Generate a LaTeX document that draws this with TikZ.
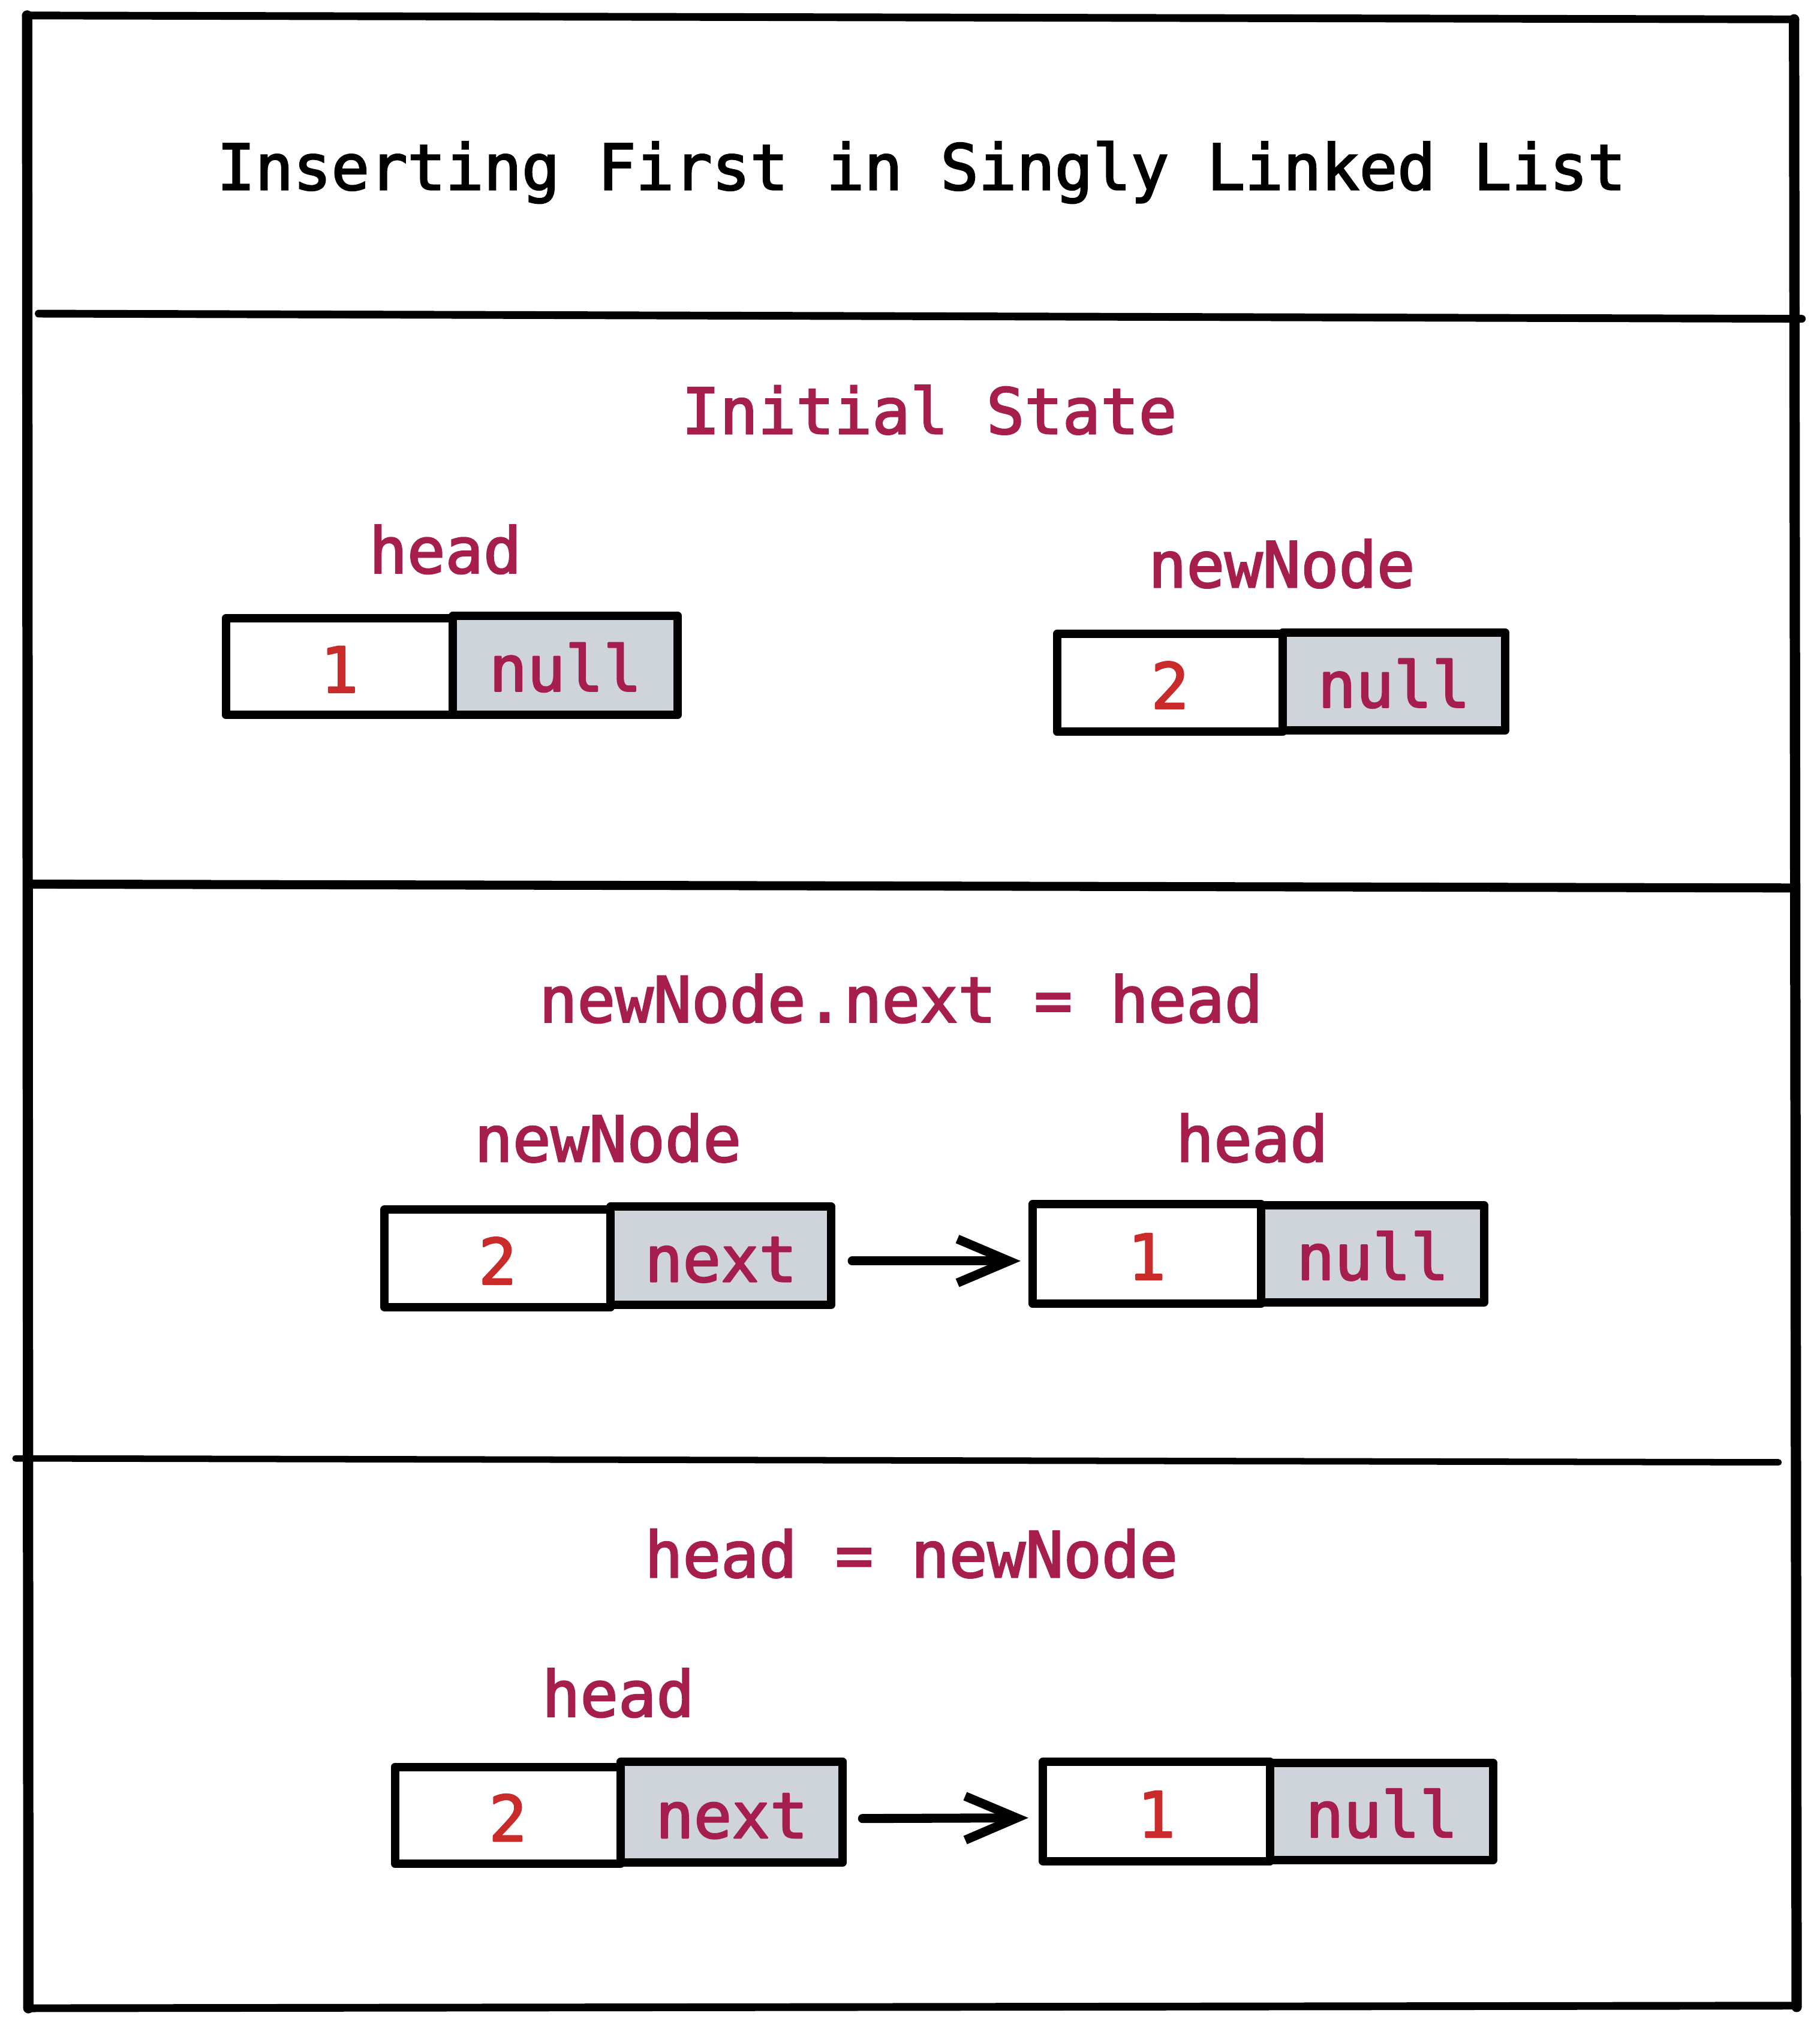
\documentclass[tikz,border=0pt]{standalone}
\usepackage{fontspec}
\newfontfamily\dvm[FakeBold=2.5]{DejaVu Sans Mono}
\usetikzlibrary{arrows.meta}
\definecolor{lbl}{HTML}{A61E4D}
\definecolor{num}{HTML}{C92A2A}
\definecolor{cellgray}{HTML}{CED4DA}
\tikzset{
  txt/.style={anchor=base, inner sep=0pt, font=\dvm\fontsize{49pt}{58pt}\selectfont},
  ttl/.style={txt, text=black},
  lab/.style={txt, text=lbl},
  cell/.style={draw=black, line width=6.5pt, line join=round, rectangle, inner sep=0pt,
    text height=40pt, text depth=0pt, font=\dvm\fontsize{49pt}{58pt}\selectfont},
  valcell/.style={cell, fill=white, text=num},
  ptrcell/.style={cell, fill=cellgray, text=lbl},
  frameline/.style={line width=6pt, line cap=round},
  arr/.style={line width=7pt, line cap=round, -{Straight Barb[length=40pt, width=34pt, line width=7pt]}}
}
\begin{document}
\begin{tikzpicture}[x=1pt, y=-1pt]
\useasboundingbox (0,0) rectangle (1410,1569);
% frame
\draw[frameline] (20,12) -- (1391,15);
\draw[frameline, line width=8pt] (21,12) -- (22,1556);
\draw[frameline, line width=8pt] (1390,15) -- (1392,1555);
\draw[frameline] (21,1556) -- (1392,1554);
% dividers
\draw[frameline] (30,243) -- (1396,247);
\draw[frameline, line width=7pt] (22,685) -- (1388,688);
\draw[frameline, line width=5pt] (12,1130) -- (1378,1133);
% title
\node[ttl] (title) at (714,147) {Inserting First in Singly Linked List};
% section 1
\node[lab] (h1) at (720,336) {Initial State};
\node[lab] (l1a) at (345,444) {head};
\node[lab] (l1b) at (993,455) {newNode};
\node[valcell, minimum width=176pt, minimum height=75pt] (a1) at (263,516.5) {1};
\node[ptrcell, minimum width=174pt, minimum height=77pt] (a2) at (438,515.5) {null};
\node[valcell, minimum width=175pt, minimum height=76pt] (b1) at (906.5,529) {2};
\node[ptrcell, minimum width=172pt, minimum height=76pt] (b2) at (1080,528) {null};
% section 2
\node[lab] (h2) at (698,792) {newNode.next = head};
\node[lab] (l2a) at (471,900) {newNode};
\node[lab] (l2b) at (970,900) {head};
\node[valcell, minimum width=175pt, minimum height=76pt] (c1) at (385.5,975) {2};
\node[ptrcell, minimum width=171pt, minimum height=76pt] (c2) at (558.5,973) {next};
\node[valcell, minimum width=177pt, minimum height=77pt] (d1) at (888.5,971.5) {1};
\node[ptrcell, minimum width=173pt, minimum height=75pt] (d2) at (1063.5,971.5) {null};
\draw[arr] ([xshift=13pt,yshift=-4pt]c2.east) -- ([xshift=-6pt,yshift=-5.5pt]d1.west);
% section 3
\node[lab] (h3) at (706,1222) {head = newNode};
\node[lab] (l3a) at (479,1330) {head};
\node[valcell, minimum width=175pt, minimum height=75pt] (e1) at (393.5,1406.5) {2};
\node[ptrcell, minimum width=172pt, minimum height=78pt] (e2) at (567,1404) {next};
\node[valcell, minimum width=176pt, minimum height=77pt] (f1) at (896,1403.5) {1};
\node[ptrcell, minimum width=173pt, minimum height=75pt] (f2) at (1070.5,1403.5) {null};
\draw[arr] ([xshift=12pt,yshift=-5pt]e2.east) -- ([xshift=-8pt,yshift=-5pt]f1.west);
\end{tikzpicture}
\end{document}
